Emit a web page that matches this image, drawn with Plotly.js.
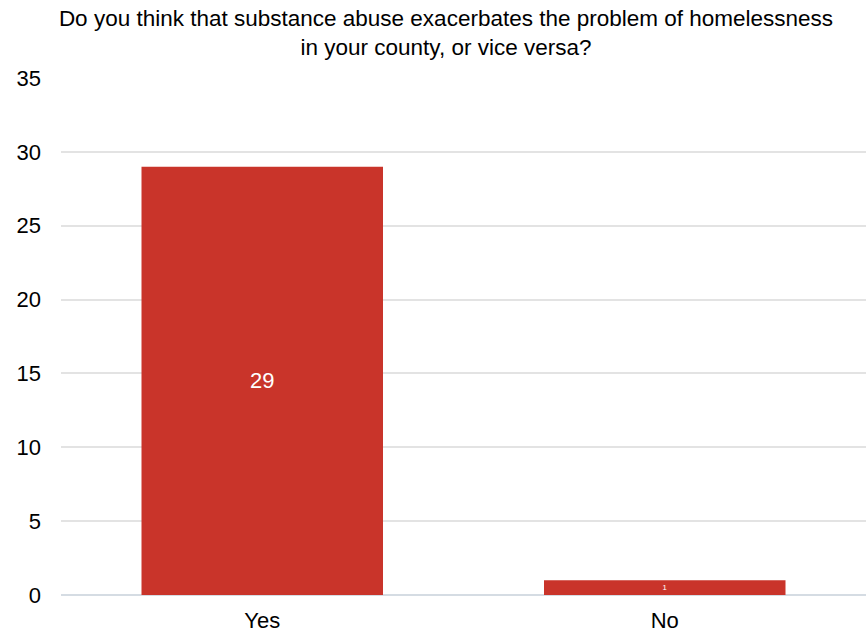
<!DOCTYPE html>
<html><head><meta charset="utf-8">
<script src="https://cdn.plot.ly/plotly-3.0.1.min.js"></script>
<style>html,body{margin:0;padding:0;background:#fff}#chart{width:866px;height:635px}</style>
</head><body><div id="chart"></div>
<script>
const categories = ["Yes", "No"];
const counts = [29, 1];
const tickValues = [0, 5, 10, 15, 20, 25, 30, 35];
const titleText = "Do you think that substance abuse exacerbates the problem of homelessness<br>in your county, or vice versa?";

Plotly.newPlot("chart", [{
  type: "bar",
  x: categories,
  y: counts,
  text: counts.map(String),
  textposition: "inside",
  insidetextanchor: "middle",
  textangle: 0,
  textfont: {family: "Liberation Sans, Arial, sans-serif", size: 22, color: "#ffffff"},
  marker: {color: "#C9342A"},
  hoverinfo: "none"
}], {
  width: 866, height: 635,
  margin: {l: 61, r: 0, t: 78, b: 40},
  paper_bgcolor: "#ffffff", plot_bgcolor: "#ffffff",
  bargap: 0.4,
  font: {family: "Liberation Sans, Arial, sans-serif", color: "#000"},
  title: {text: titleText, x: 0.515, xanchor: "center", y: 0.959, yanchor: "middle", yref: "container",
          font: {size: 22.5, color: "#000", lineheight: 1.1}},
  xaxis: {showgrid: false, zeroline: false, showline: false, ticks: "", tickfont: {size: 22}, ticklabelstandoff: 10},
  yaxis: {range: [0, 35], tickvals: tickValues, showgrid: true, gridcolor: "#e3e3e3", gridwidth: 2,
          zeroline: true, zerolinecolor: "#d5dce3", zerolinewidth: 2, ticks: "", ticklabelstandoff: 19,
          tickfont: {size: 22}, fixedrange: true},
  showlegend: false
}, {displayModeBar: false, staticPlot: true});
</script></body></html>
